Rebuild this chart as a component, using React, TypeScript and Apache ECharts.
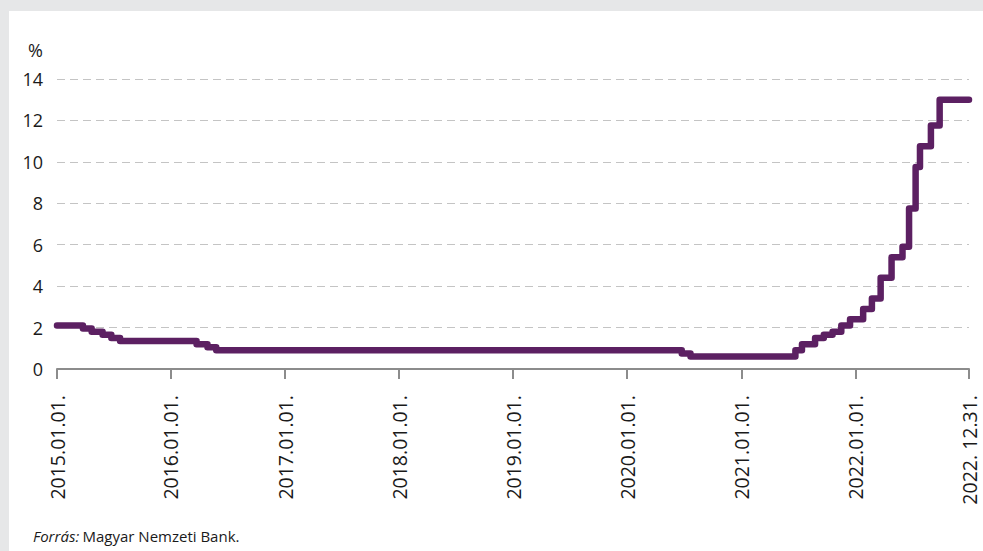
import React, { useEffect, useRef } from "react";
import * as echarts from "echarts";

const changeDates = [
  "2015-01-01", "2015-03-25", "2015-04-22", "2015-05-27", "2015-06-24", "2015-07-22",
  "2016-03-23", "2016-04-27", "2016-05-25",
  "2020-06-24", "2020-07-22",
  "2021-06-23", "2021-07-14", "2021-08-25", "2021-09-22", "2021-10-20", "2021-11-17", "2021-12-15",
  "2022-01-26", "2022-02-23", "2022-03-23", "2022-04-27", "2022-06-01", "2022-06-22",
  "2022-07-13", "2022-07-27", "2022-08-31", "2022-09-28", "2022-12-31",
];
const rateValues = [
  2.1, 1.95, 1.8, 1.65, 1.5, 1.35,
  1.2, 1.05, 0.9,
  0.75, 0.6,
  0.9, 1.2, 1.5, 1.65, 1.8, 2.1, 2.4,
  2.9, 3.4, 4.4, 5.4, 5.9, 7.75,
  9.75, 10.75, 11.75, 13.0, 13.0,
];
const tickDates = [
  "2015-01-01", "2016-01-01", "2017-01-01", "2018-01-01", "2019-01-01",
  "2020-01-01", "2021-01-01", "2022-01-01", "2022-12-31",
];
const tickLabels = [
  "2015.01.01.", "2016.01.01.", "2017.01.01.", "2018.01.01.", "2019.01.01.",
  "2020.01.01.", "2021.01.01.", "2022.01.01.", "2022. 12.31.",
];

const ts = (d: string) => {
  const [y, m, dd] = d.split("-").map(Number);
  return Date.UTC(y, m - 1, dd);
};

export default function App() {
  const ref = useRef<HTMLDivElement>(null);
  useEffect(() => {
    document.body.style.margin = "0";
    if (!ref.current) return;
    const chart = echarts.init(ref.current, undefined, { renderer: "svg" });
    const tickVals = tickDates.map(ts);
    const font = "'Open Sans', sans-serif";
    chart.setOption({
      animation: false,
      backgroundColor: "#ffffff",
      grid: { left: 48, top: 68, right: 14, bottom: 182 },
      xAxis: {
        type: "value",
        min: tickVals[0],
        max: tickVals[tickVals.length - 1],
        axisLine: { show: true, lineStyle: { color: "#8c8c8c", width: 2 } },
        axisTick: {
          show: true,
          customValues: tickVals,
          length: 10,
          inside: false,
          lineStyle: { color: "#8c8c8c", width: 2 },
        },
        axisLabel: {
          customValues: tickVals,
          rotate: 90,
          margin: 26,
          fontSize: 19.5,
          color: "#1a1a1a",
          fontFamily: font,
          formatter: (v: number) => {
            const i = tickVals.indexOf(v);
            return i >= 0 ? tickLabels[i] : "";
          },
        },
        splitLine: { show: false },
      },
      yAxis: {
        type: "value",
        min: 0,
        max: 14,
        interval: 2,
        name: "%",
        nameLocation: "end",
        nameGap: 20,
        nameTextStyle: { fontSize: 18, color: "#1a1a1a", fontFamily: font, align: "right", padding: [0, 14, 0, 0] },
        axisLine: { show: false },
        axisTick: { show: false },
        axisLabel: { fontSize: 18, color: "#1a1a1a", fontFamily: font, margin: 14 },
        splitLine: { show: true, lineStyle: { color: "#c4c4c4", type: [8, 5], width: 1 } },
      },
      series: [
        {
          type: "line",
          step: "end",
          showSymbol: false,
          symbol: "none",
          data: changeDates.map((d, i) => [ts(d), rateValues[i]]),
          lineStyle: { color: "#5c2062", width: 6.5, cap: "round", join: "round" },
          z: 5,
        },
      ],
      graphic: [
        {
          type: "text",
          left: 24,
          top: 517,
          style: {
            text: "{i|Forrás:} {r|Magyar Nemzeti Bank.}",
            rich: {
              i: { fontStyle: "italic", fontSize: 15, fontFamily: font, fill: "#1a1a1a" },
              r: { fontSize: 15, fontFamily: font, fill: "#1a1a1a" },
            },
          },
        },
      ],
    });
    return () => chart.dispose();
  }, []);
  return (
    <div style={{ position: "relative", width: 983, height: 551, background: "#e6e7e8" }}>
      <div ref={ref} style={{ position: "absolute", left: 9, top: 11, width: 974, height: 540 }} />
    </div>
  );
}
